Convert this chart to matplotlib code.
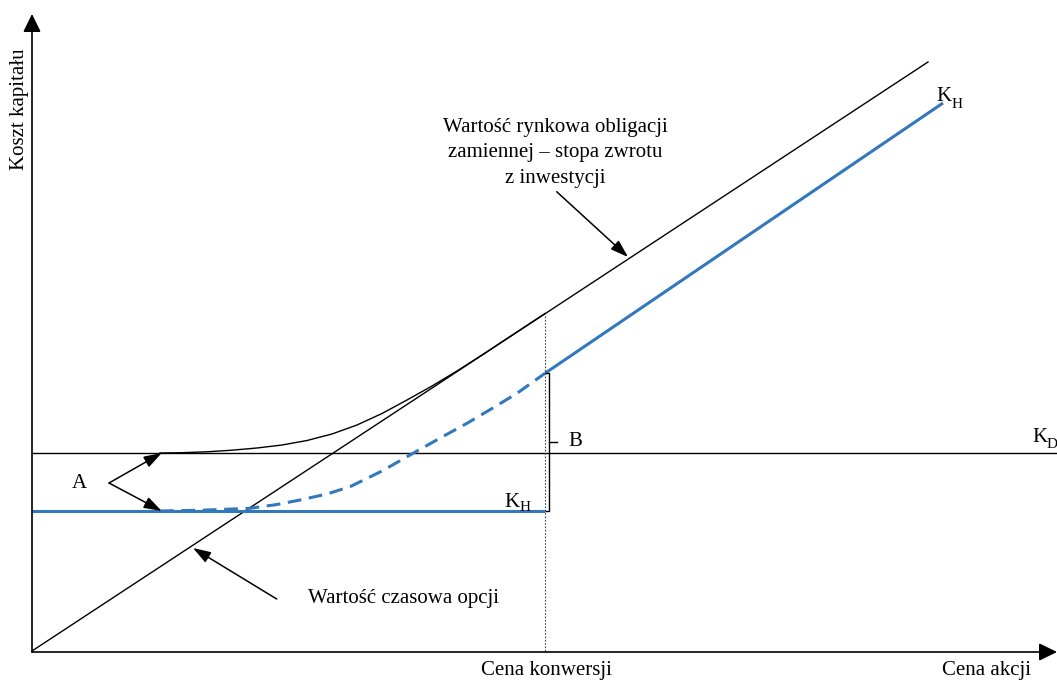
import matplotlib.pyplot as plt

plt.rcParams['font.family'] = ['Liberation Serif', 'DejaVu Serif']

BLUE = '#3378bd'

# schematic values (arbitrary units: price on x, cost of capital on y)
x_max = 1025
y_max = 637
conversion_price = 513
k_d = 198
k_h = 140

# market value of the convertible (straight line through origin)
market_x = [0, 896]
market_y = [0, 589]

# bond value curve (black)
bond_x = [128, 150, 175, 200, 225, 250, 275, 300, 325, 350, 375, 400, 425, 450, 475, 513]
bond_y = [198.0, 198.3, 199.2, 200.8, 203.0, 206.0, 210.5, 217.0, 226.0, 237.5, 251.0,
          265.0, 280.0, 296.0, 312.5, 337.5]

# K_H dashed part (blue)
kh_dash_x = [128, 170, 218, 245, 268, 295, 318, 350, 381, 410, 435, 460, 485, 513]
kh_dash_y = [140.0, 140.8, 142.7, 146.5, 151.0, 157.0, 164.3, 180.0, 197.7, 214.0,
             227.7, 242.5, 257.7, 277.7]

# K_H solid part after conversion
kh_line_x = [513, 911]
kh_line_y = [277.7, 548]

fig = plt.figure(figsize=(10.57, 6.82), dpi=100)
ax = fig.add_axes([0, 0, 1, 1])
ax.set_xlim(-32, 1025)
ax.set_ylim(-31, 651)
ax.axis('off')

big_head = dict(arrowstyle='-|>,head_length=0.55,head_width=0.27', color='black',
                lw=1.2, mutation_scale=20, shrinkA=0, shrinkB=0)
small_head = dict(arrowstyle='-|>,head_length=0.6,head_width=0.2', color='black',
                  lw=1.1, mutation_scale=18, shrinkA=0, shrinkB=0)

# axes with arrow heads
ax.annotate('', xy=(0, y_max), xytext=(0, -1), arrowprops=big_head)
ax.annotate('', xy=(x_max, -1), xytext=(0, -1), arrowprops=big_head)

ax.plot(market_x, market_y, color='black', lw=1.0)
ax.plot([0, x_max], [k_d, k_d], color='black', lw=1.0)
ax.plot(bond_x, bond_y, color='black', lw=1.0)

ax.plot([0, conversion_price], [k_h, k_h], color=BLUE, lw=2.2, solid_capstyle='butt')
ax.plot(kh_dash_x, kh_dash_y, color=BLUE, lw=2.2, dashes=(4.5, 2.5))
ax.plot(kh_line_x, kh_line_y, color=BLUE, lw=2.2, solid_capstyle='butt')

# conversion price guide
ax.plot([conversion_price, conversion_price], [0, bond_y[-1]], color='#444444', lw=0.8,
        dashes=(1.5, 1.5))

# bracket B
bx = conversion_price + 4
ax.plot([bx - 3, bx, bx, bx - 3], [kh_line_y[0], kh_line_y[0], k_h, k_h], color='black', lw=1.0)
ax.plot([bx, bx + 8], [209.3, 209.3], color='black', lw=1.0)
ax.text(536, 209.3, 'B', fontsize=15, va='center', ha='left')

# A arrows
ax.text(47, 168, 'A', fontsize=15, va='center', ha='center')
ax.annotate('', xy=(129.7, k_d), xytext=(77, 168), arrowprops=small_head)
ax.annotate('', xy=(129.7, k_h), xytext=(77, 168), arrowprops=small_head)

# labels
ax.text(-12.7, 542, 'Koszt kapitału', fontsize=15, rotation=90, va='center', ha='center')
ax.text(514, -19.5, 'Cena konwersji', fontsize=15, va='center', ha='center')
ax.text(954, -19.5, 'Cena akcji', fontsize=15, va='center', ha='center')

# K labels: letter plus small subscript
ax.text(472, 139, 'K', fontsize=15, va='bottom', ha='left')
ax.text(487.5, 137, 'H', fontsize=11, va='bottom', ha='left')
ax.text(904, 545, 'K', fontsize=15, va='bottom', ha='left')
ax.text(919.5, 540, 'H', fontsize=11, va='bottom', ha='left')
ax.text(1000, 204, 'K', fontsize=15, va='bottom', ha='left')
ax.text(1015, 200, 'D', fontsize=11, va='bottom', ha='left')

ax.text(523, 498, 'Wartość rynkowa obligacji\nzamiennej – stopa zwrotu\nz inwestycji',
        fontsize=15, va='center', ha='center', multialignment='center', linespacing=1.45)
ax.annotate('', xy=(596, 394), xytext=(524.7, 459.3), arrowprops=small_head)

ax.text(276, 52.7, 'Wartość czasowa opcji', fontsize=15, va='center', ha='left')
ax.annotate('', xy=(161, 103), xytext=(244.7, 52), arrowprops=small_head)

fig.savefig('out.png', dpi=100)
